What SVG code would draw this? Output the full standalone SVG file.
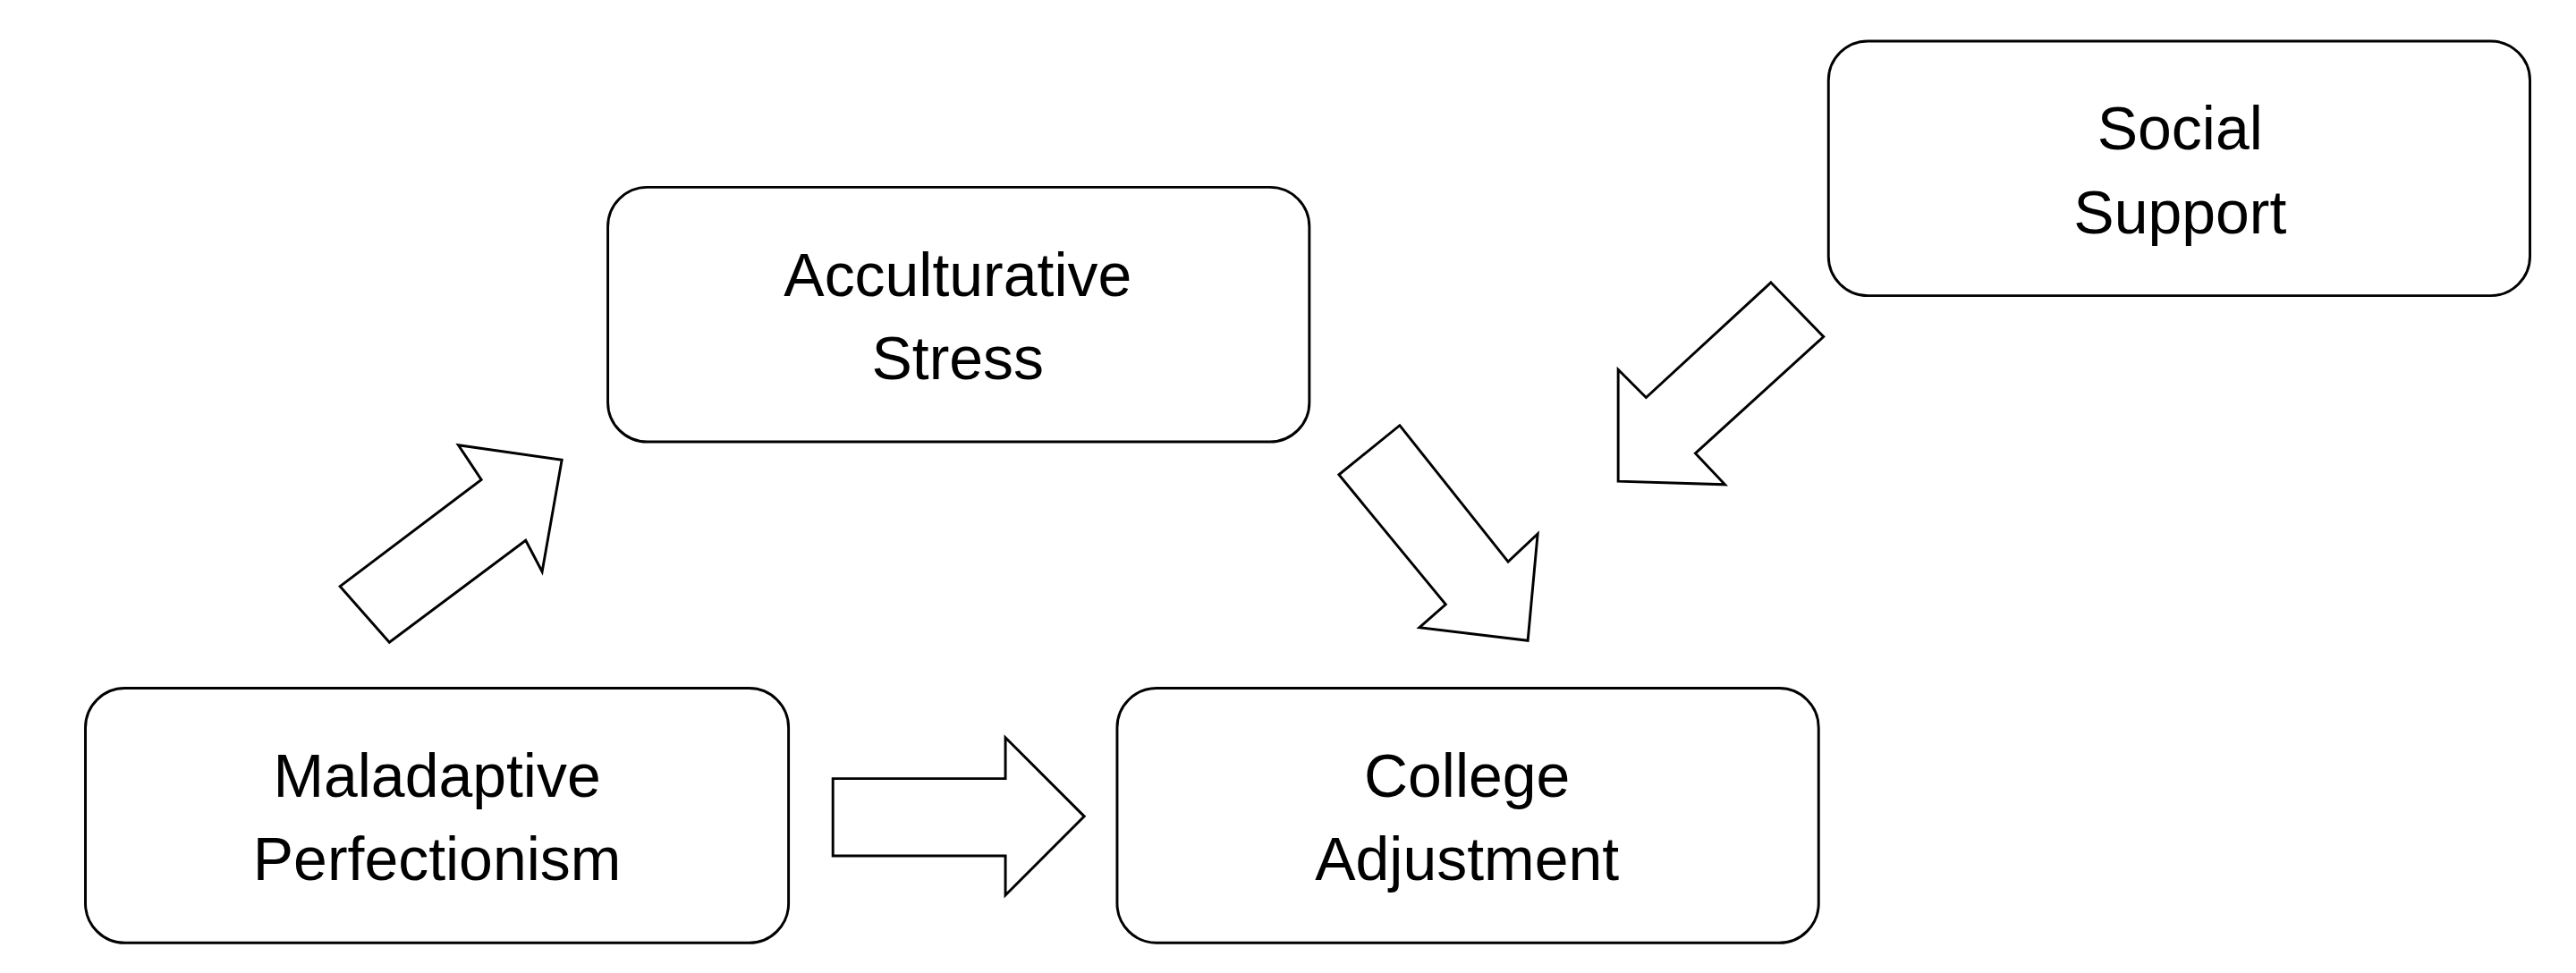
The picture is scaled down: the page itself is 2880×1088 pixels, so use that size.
<svg xmlns="http://www.w3.org/2000/svg" width="2880" height="1088" viewBox="0 0 2880 1088">
<style>
.box{fill:#fff;stroke:#000;stroke-width:1.6}
.arr{fill:#fff;stroke:#000;stroke-width:1.6;stroke-linejoin:miter}
text{font-family:"Liberation Sans",Arial,sans-serif;font-size:37px;text-anchor:middle;fill:#000}
</style>
<rect width="2880" height="1088" fill="#fff"/>
<g transform="scale(1.8367)">
<g id="social-support"><rect class="box" x="1113" y="25" width="427" height="155" rx="24"/><text x="1327" y="91">Social</text><text x="1327" y="142">Support</text></g>
<g id="acculturative-stress"><rect class="box" x="370" y="114" width="427" height="155" rx="24"/><text x="583" y="180">Acculturative</text><text x="583" y="231">Stress</text></g>
<g id="maladaptive-perfectionism"><rect class="box" x="52" y="419" width="428" height="155" rx="24"/><text x="266" y="485">Maladaptive</text><text x="266" y="536">Perfectionism</text></g>
<g id="college-adjustment"><rect class="box" x="680" y="419" width="427" height="155" rx="24"/><text x="893" y="485">College</text><text x="893" y="536">Adjustment</text></g>
<g id="connectors">
<polygon class="arr" points="507,474 612,474 612,449 660,497 612,545 612,521 507,521"/>
<polygon class="arr" points="207,357 293,292 279,271 342,280 330,348 320,329 237,391"/>
<polygon class="arr" points="852,259 918,342 936,325 930,390 864,382 880,368 815,289"/>
<polygon class="arr" points="1078,172 1110,205 1032,276 1050,295 985,293 985,225 1002,242"/>
</g>
</g>
</svg>
